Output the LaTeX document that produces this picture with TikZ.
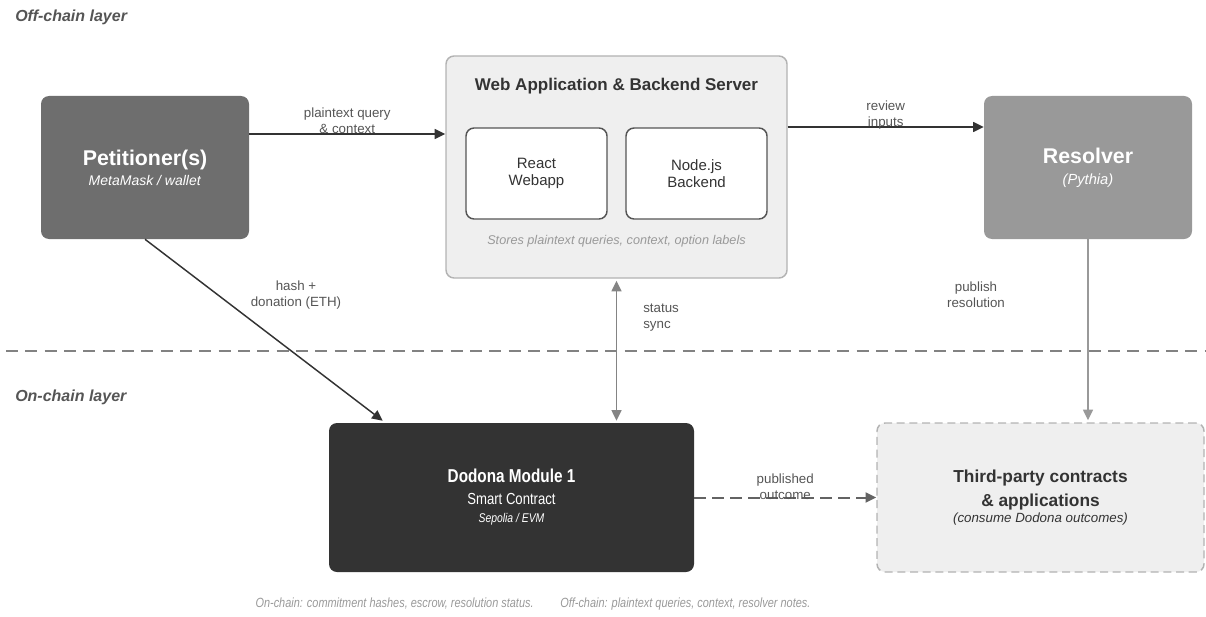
\documentclass[tikz,border=0pt]{standalone}
\usepackage{fontspec}
\setmainfont{Liberation Sans}
\newfontfamily\narrowsans[FakeStretch=0.82]{Liberation Sans}
\usetikzlibrary{arrows.meta}
\definecolor{ink}{HTML}{333333}
\definecolor{petfill}{HTML}{6E6E6E}
\definecolor{resfill}{HTML}{999999}
\definecolor{paper}{HTML}{EFEFEF}
\definecolor{rim}{HTML}{B3B3B3}
\definecolor{txtgray}{HTML}{555555}
\definecolor{capgray}{HTML}{999999}
\tikzset{
  box/.style={rounded corners=6pt, align=center, inner sep=0pt},
  solidbox/.style={box, text=white, minimum width=156pt, minimum height=107.25pt},
  innerbox/.style={box, draw=txtgray, line width=1.1pt, fill=white, text=ink, minimum width=105.75pt, minimum height=68.25pt, font=\fontsize{11.25}{12.75}\selectfont},
  lbl/.style={inner sep=0pt, align=center, text=txtgray, font=\fontsize{10}{12}\selectfont},
  layerlbl/.style={inner sep=0pt, anchor=west, text=txtgray, font=\fontsize{12}{14}\selectfont\bfseries\itshape},
  arr/.style={-{Triangle[length=8pt,width=7.5pt]}, line width=1.1pt},
}
\begin{document}
\begin{tikzpicture}[x=0.75pt,y=-0.75pt]
\useasboundingbox (0,0) rectangle (1206,617);

\node[layerlbl] (offlbl) at (15,17) {Off-chain layer};
\node[layerlbl] (onlbl) at (15,397) {On-chain layer};
\draw[draw=capgray!85!black, line width=1.9pt, dash pattern=on 9pt off 5.5pt] (6,351) -- (1206,351);

\node[solidbox, fill=petfill, font=\fontsize{10.5}{15}\selectfont] (pet) at (145,167.5)
  {{\fontsize{16}{15}\selectfont\bfseries Petitioner(s)}\\\textit{MetaMask / wallet}};
\node[solidbox, fill=resfill, font=\fontsize{11}{15.75}\selectfont] (res) at (1088,167.5)
  {{\fontsize{16}{15}\selectfont\bfseries Resolver}\\\textit{(Pythia)}};

\node[box, draw=rim, line width=1.1pt, fill=paper, minimum width=255.75pt, minimum height=166.5pt] (web) at (616.5,167) {};
\node[inner sep=0pt, text=ink, font=\fontsize{12.75}{14}\selectfont\bfseries] (webtitle) at (616.5,86) {Web Application \& Backend Server};
\node[innerbox] (react) at (536.5,173.5) {React\\Webapp};
\node[innerbox] (nodejs) at (696.5,173.5) {Node.js\\Backend};
\node[inner sep=0pt, text=capgray, font=\fontsize{9.5}{11}\selectfont\itshape] (webnote) at (616.5,241) {Stores plaintext queries, context, option labels};

\node[box, fill=ink, text=white, minimum width=273.75pt, minimum height=111.75pt, font=\narrowsans\fontsize{12}{13.5}\selectfont] (dod) at (511.5,497.5)
  {{\fontsize{14}{13.5}\selectfont\bfseries Dodona Module 1}\\[3pt]Smart Contract\\{\fontsize{9.5}{13.5}\selectfont\itshape Sepolia / EVM}};
\node[box, draw=rim, line width=1.1pt, dash pattern=on 6pt off 3.5pt, fill=paper, text=ink, minimum width=245.25pt, minimum height=111.75pt, font=\fontsize{10}{12}\selectfont] (third) at (1040.5,497.5)
  {{\fontsize{13}{12}\selectfont\bfseries Third-party contracts}\\[5pt]{\fontsize{13}{12}\selectfont\bfseries \& applications}\\\textit{(consume Dodona outcomes)}};

\coordinate (qy) at (0,134);
\coordinate (ry) at (0,127);
\draw[arr, draw=ink] (pet.east |- qy) -- node[lbl, anchor=south, yshift=-0.5pt] (qlbl) {plaintext query\\\& context} (web.west |- qy);
\draw[arr, draw=ink] (web.east |- ry) -- node[lbl, anchor=south, yshift=-2pt] (rlbl) {review\\inputs} (res.west |- ry);
\draw[arr, draw=ink] (pet.south) -- ([xshift=40.5pt,yshift=1.5pt]dod.north west);
\node[lbl] (hlbl) at (296,295) {hash +\\donation (ETH)};
\draw[{Triangle[length=8pt,width=7.5pt]}-{Triangle[length=8pt,width=7.5pt]}, line width=1.1pt, draw=petfill!85!white] ([yshift=-1.5pt]web.south) -- ([yshift=1.5pt]web.south |- dod.north);
\node[lbl, anchor=west, align=left] (slbl) at (643,318) {status\\sync};
\draw[arr, draw=resfill] (res.south) -- ([yshift=1.5pt]res.south |- third.north);
\node[lbl] (plbl) at (976,295) {publish\\resolution};
\draw[arr, draw=petfill!90!black, line width=1.5pt, dash pattern=on 8.5pt off 5pt] (dod.east) -- node[lbl, anchor=south, yshift=-2pt] (olbl) {published\\outcome} (third.west);

\node[inner sep=0pt, text=capgray, font=\narrowsans\fontsize{10}{12}\selectfont\itshape] (foot) at (533,604)
  {On-chain: commitment hashes, escrow, resolution status.\hspace{20pt}Off-chain: plaintext queries, context, resolver notes.};
\end{tikzpicture}
\end{document}
